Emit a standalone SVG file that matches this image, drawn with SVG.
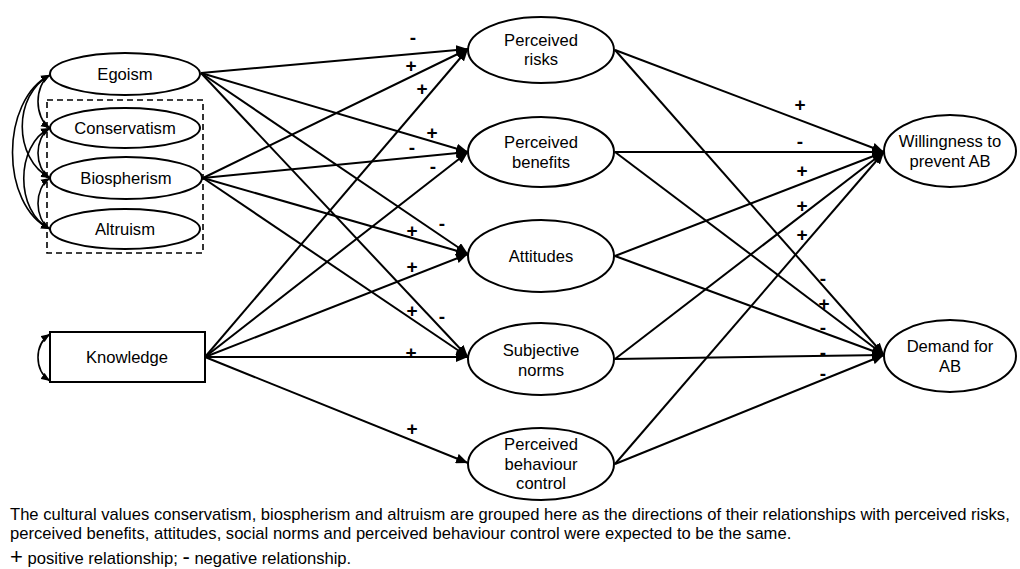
<svg xmlns="http://www.w3.org/2000/svg" width="1020" height="569" viewBox="0 0 1020 569">
<style>
text{font-family:"Liberation Sans",Arial,sans-serif;fill:#000}
.n{font-size:16.6px;text-anchor:middle}
.s{font-size:19px;font-weight:bold;text-anchor:middle}
.c{font-size:16.6px}
.node{fill:#fff;stroke:#000;stroke-width:2}
.e{fill:none;stroke:#000;stroke-width:2;marker-end:url(#ah)}
.cov{fill:none;stroke:#000;stroke-width:1.6;marker-start:url(#sh);marker-end:url(#sh)}
</style>
<defs>
<marker id="ah" viewBox="0 0 12 10" refX="12" refY="5" markerWidth="12" markerHeight="10" markerUnits="userSpaceOnUse" orient="auto"><path d="M0,0 L12,5 L0,10 z" fill="#000"/></marker>
<marker id="sh" viewBox="0 0 10 8" refX="10" refY="4" markerWidth="9" markerHeight="8" markerUnits="userSpaceOnUse" orient="auto-start-reverse"><path d="M0,0 L10,4 L0,8 z" fill="#000"/></marker>
</defs>
<rect width="1020" height="569" fill="#fff"/>
<rect x="47" y="100" width="156" height="153" fill="none" stroke="#000" stroke-width="1.6" stroke-dasharray="6,4"/>
<g id="connectors">
<path class="e" d="M201,73 L468,49"/>
<path class="e" d="M201,73 L468,152"/>
<path class="e" d="M201,73 L468,254"/>
<path class="e" d="M201,73 L468,357"/>
<path class="e" d="M203,178 L468,49"/>
<path class="e" d="M203,178 L468,152"/>
<path class="e" d="M203,178 L468,254"/>
<path class="e" d="M203,178 L468,357"/>
<path class="e" d="M205,357 L468,49"/>
<path class="e" d="M205,357 L468,152"/>
<path class="e" d="M205,357 L468,254"/>
<path class="e" d="M205,357 L468,357"/>
<path class="e" d="M205,357 L468,463"/>
<path class="e" d="M615,50 L884,152"/>
<path class="e" d="M615,152 L884,152"/>
<path class="e" d="M615,256 L884,152"/>
<path class="e" d="M615,359 L884,152"/>
<path class="e" d="M615,464 L884,152"/>
<path class="e" d="M615,50 L884,355"/>
<path class="e" d="M615,152 L884,355"/>
<path class="e" d="M615,256 L884,355"/>
<path class="e" d="M615,359 L884,355"/>
<path class="e" d="M615,464 L884,355"/>
<path class="cov" d="M50,75 C0,100 0,205 50,229"/>
<path class="cov" d="M50,75 C13,95 13,158 50,178"/>
<path class="cov" d="M50,75 C34,85 34,118 50,128"/>
<path class="cov" d="M50,128 C34,138 34,168 50,178"/>
<path class="cov" d="M50,128 C15,145 15,212 50,229"/>
<path class="cov" d="M50,178 C34,188 34,219 50,229"/>
<path class="cov" d="M50,334 C34,345 34,370 50,381"/>
</g>
<g id="egoism"><ellipse class="node" cx="125" cy="74" rx="75" ry="21"/><text class="n" x="125" y="80">Egoism</text></g>
<g id="conservatism"><ellipse class="node" cx="125" cy="128" rx="75" ry="20"/><text class="n" x="125" y="134">Conservatism</text></g>
<g id="biospherism"><ellipse class="node" cx="126" cy="178" rx="76" ry="21"/><text class="n" x="126" y="184">Biospherism</text></g>
<g id="altruism"><ellipse class="node" cx="125" cy="229" rx="75" ry="20"/><text class="n" x="125" y="235">Altruism</text></g>
<g id="knowledge"><rect class="node" x="50" y="332" width="155" height="50"/><text class="n" x="127" y="363">Knowledge</text></g>
<g id="risks"><ellipse class="node" cx="541" cy="50" rx="73" ry="33"/><text class="n" x="541" y="46">Perceived</text><text class="n" x="541" y="65">risks</text></g>
<g id="benefits"><ellipse class="node" cx="541" cy="152" rx="73" ry="35"/><text class="n" x="541" y="148">Perceived</text><text class="n" x="541" y="168">benefits</text></g>
<g id="attitudes"><ellipse class="node" cx="541" cy="256" rx="73" ry="36"/><text class="n" x="541" y="262">Attitudes</text></g>
<g id="norms"><ellipse class="node" cx="541" cy="359" rx="73" ry="36"/><text class="n" x="541" y="356">Subjective</text><text class="n" x="541" y="376">norms</text></g>
<g id="pbc"><ellipse class="node" cx="541" cy="464" rx="73" ry="36"/><text class="n" x="541" y="450">Perceived</text><text class="n" x="541" y="470">behaviour</text><text class="n" x="541" y="489">control</text></g>
<g id="willingness"><ellipse class="node" cx="950" cy="151" rx="66" ry="36"/><text class="n" x="950" y="147">Willingness to</text><text class="n" x="950" y="167">prevent AB</text></g>
<g id="demand"><ellipse class="node" cx="950" cy="356" rx="66" ry="36"/><text class="n" x="950" y="352">Demand for</text><text class="n" x="950" y="372">AB</text></g>
<g id="signs">
<text class="s" x="413" y="44">-</text>
<text class="s" x="411" y="72">+</text>
<text class="s" x="422" y="95">+</text>
<text class="s" x="432" y="139">+</text>
<text class="s" x="412" y="154">-</text>
<text class="s" x="433" y="173">-</text>
<text class="s" x="442" y="230">-</text>
<text class="s" x="412" y="237">+</text>
<text class="s" x="412" y="273">+</text>
<text class="s" x="412" y="317">+</text>
<text class="s" x="442" y="323">-</text>
<text class="s" x="411" y="359">+</text>
<text class="s" x="412" y="435">+</text>
<text class="s" x="800" y="111">+</text>
<text class="s" x="800" y="148">-</text>
<text class="s" x="802" y="177">+</text>
<text class="s" x="802" y="212">+</text>
<text class="s" x="802" y="241">+</text>
<text class="s" x="823" y="285">-</text>
<text class="s" x="824" y="310">+</text>
<text class="s" x="823" y="334">-</text>
<text class="s" x="823" y="359">-</text>
<text class="s" x="823" y="380">-</text>
</g>
<text class="c" x="10" y="520">The cultural values conservatism, biospherism and altruism are grouped here as the directions of their relationships with perceived risks,</text>
<text class="c" x="10" y="539">perceived benefits, attitudes, social norms and perceived behaviour control were expected to be the same.</text>
<text class="c" x="10" y="564"><tspan font-size="22">+</tspan> positive relationship; <tspan font-size="22">-</tspan> negative relationship.</text>
</svg>
